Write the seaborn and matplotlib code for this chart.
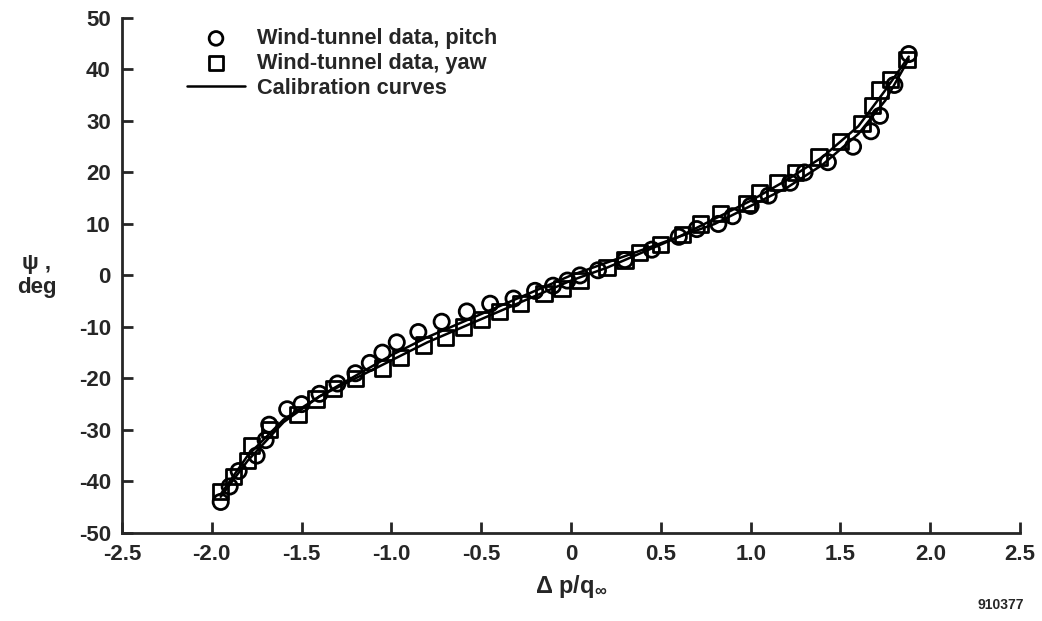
import numpy as np
import pandas as pd
import matplotlib
matplotlib.use("Agg")
import matplotlib.pyplot as plt
import seaborn as sns

# Wind-tunnel data, pitch (circles)
pitch_dp = [-1.95, -1.9, -1.85, -1.75, -1.7, -1.68, -1.58, -1.5, -1.4, -1.3,
            -1.2, -1.12, -1.05, -0.97, -0.85, -0.72, -0.58, -0.45, -0.32, -0.2,
            -0.1, -0.02, 0.05, 0.15, 0.3, 0.45, 0.6, 0.7, 0.82, 0.9,
            1.0, 1.1, 1.22, 1.3, 1.43, 1.57, 1.67, 1.72, 1.8, 1.88]
pitch_psi = [-44, -41, -38, -35, -32, -29, -26, -25, -23, -21,
             -19, -17, -15, -13, -11, -9, -7, -5.5, -4.5, -3,
             -2, -1, 0, 1, 3, 5, 7.5, 9, 10, 11.5,
             13.5, 15.5, 18, 20, 22, 25, 28, 31, 37, 43]

# Wind-tunnel data, yaw (squares)
yaw_dp = [-1.95, -1.88, -1.8, -1.78, -1.68, -1.52, -1.42, -1.32, -1.2, -1.05,
          -0.95, -0.82, -0.7, -0.6, -0.5, -0.4, -0.28, -0.15, -0.05, 0.05,
          0.2, 0.3, 0.38, 0.5, 0.62, 0.72, 0.83, 0.98, 1.05, 1.15,
          1.25, 1.38, 1.5, 1.62, 1.68, 1.72, 1.78, 1.87]
yaw_psi = [-42, -39, -36, -33, -30, -27, -24, -22, -20, -18,
           -16, -13.5, -12, -10, -8.5, -7, -5.5, -3.5, -2.5, -1,
           1.5, 3, 4.5, 6, 8, 10, 12, 14, 16, 18,
           20, 23, 26, 29.5, 33, 36, 38, 42]

# Calibration curves
cal_pitch_dp = [-1.95, -1.8, -1.6, -1.4, -1.2, -1.0, -0.8, -0.6, -0.4, -0.2, 0.0,
                0.2, 0.4, 0.6, 0.8, 1.0, 1.2, 1.4, 1.6, 1.75, 1.88]
cal_pitch_psi = [-43, -36, -28.5, -23.5, -19.5, -15.5, -12, -9, -6, -3, 0,
                 2.5, 5, 7.5, 10, 13.5, 17, 21.5, 27.5, 34, 42]
cal_yaw_dp = [-1.95, -1.8, -1.6, -1.4, -1.2, -1.0, -0.8, -0.6, -0.4, -0.2, 0.0,
              0.2, 0.4, 0.6, 0.8, 1.0, 1.2, 1.4, 1.6, 1.75, 1.88]
cal_yaw_psi = [-42.5, -35, -28, -23.5, -20, -16.5, -13, -10, -7, -4, -1,
               1.5, 4.5, 7.5, 11, 14.5, 18.5, 23, 29, 36, 42.5]

x_ticks = [-2.5, -2.0, -1.5, -1.0, -0.5, 0, 0.5, 1.0, 1.5, 2.0, 2.5]
x_tick_labels = ["-2.5", "-2.0", "-1.5", "-1.0", "-0.5", "0", "0.5", "1.0", "1.5", "2.0", "2.5"]
y_ticks = [-50, -40, -30, -20, -10, 0, 10, 20, 30, 40, 50]
y_tick_labels = ["-50", "-40", "-30", "-20", "-10", "0", "10", "20", "30", "40", "50"]

sns.set_style("ticks")
plt.rcParams["font.family"] = ["Liberation Sans", "DejaVu Sans"]
plt.rcParams["font.weight"] = "bold"
plt.rcParams["mathtext.default"] = "regular"
plt.rcParams["axes.unicode_minus"] = False

fig = plt.figure(figsize=(10.42, 6.21), dpi=100)
ax = fig.add_axes([0.117, 0.142, 0.862, 0.829])

sns.lineplot(x=cal_pitch_dp, y=cal_pitch_psi, color="black", linewidth=1.8,
             ax=ax, label="Calibration curves", sort=False)
sns.lineplot(x=cal_yaw_dp, y=cal_yaw_psi, color="black", linewidth=1.8,
             ax=ax, sort=False)
sns.scatterplot(x=pitch_dp, y=pitch_psi, marker="o", s=120, facecolor="none",
                edgecolor="black", linewidth=2, ax=ax, label="Wind-tunnel data, pitch")
sns.scatterplot(x=yaw_dp, y=yaw_psi, marker="s", s=120, facecolor="none",
                edgecolor="black", linewidth=2, ax=ax, label="Wind-tunnel data, yaw")

ax.set_xlim(-2.5, 2.5)
ax.set_ylim(-50, 50)
ax.set_xticks(x_ticks)
ax.set_xticklabels(x_tick_labels)
ax.set_yticks(y_ticks)
ax.set_yticklabels(y_tick_labels)
sns.despine(ax=ax)
for s in ["left", "bottom"]:
    ax.spines[s].set_linewidth(2)
ax.tick_params(direction="in", length=8, width=2, labelsize=16, pad=8)
for lab in ax.get_xticklabels() + ax.get_yticklabels():
    lab.set_fontweight("bold")

ax.set_xlabel(r"Δ p/q$_{\infty}$", fontsize=17, fontweight="bold", labelpad=6)
ax.set_ylabel("ψ ,\ndeg", fontsize=16, fontweight="bold", rotation=0,
              ha="center", va="center")
ax.yaxis.set_label_coords(-0.095, 0.5)

handles, labels = ax.get_legend_handles_labels()
order = [labels.index("Wind-tunnel data, pitch"),
         labels.index("Wind-tunnel data, yaw"),
         labels.index("Calibration curves")]
ax.legend([handles[i] for i in order], [labels[i] for i in order],
          loc="upper left", bbox_to_anchor=(0.055, 1.01), frameon=False,
          prop={"size": 15.7, "weight": "bold"}, handlelength=2.7,
          handletextpad=0.55, labelspacing=0.18, borderaxespad=0.3,
          markerscale=0.9)

fig.text(0.96, 0.02, "910377", fontsize=10, fontweight="bold", ha="center")

fig.savefig("out.png", dpi=100)
